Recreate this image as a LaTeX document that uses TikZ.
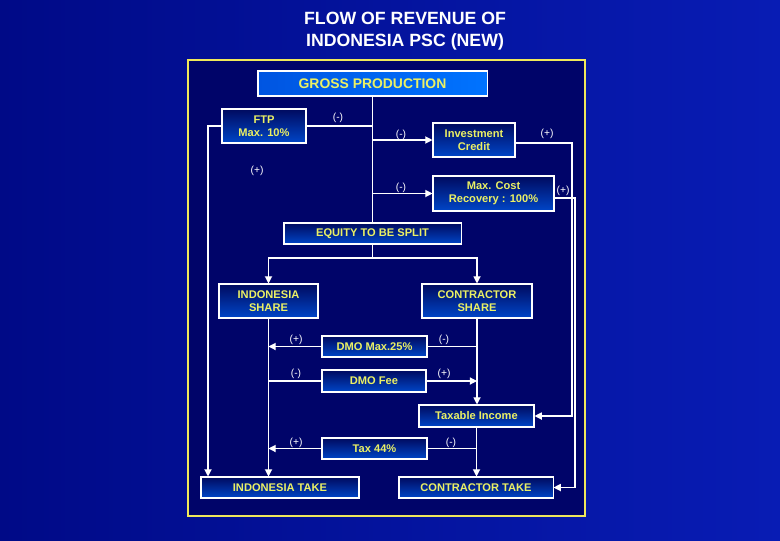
\documentclass[tikz,border=0pt]{standalone}
\usepackage{fontspec}
\setmainfont{Liberation Sans}
\usepackage{xcolor}
\usetikzlibrary{arrows.meta,positioning,calc}
\definecolor{slideblue}{RGB}{0,10,135}
\definecolor{slidelight}{RGB}{8,28,180}
\definecolor{framein}{RGB}{0,4,105}
\definecolor{frameyel}{RGB}{240,232,90}
\definecolor{boxdark}{RGB}{0,10,95}
\definecolor{boxlight}{RGB}{0,70,200}
\definecolor{grossleft}{RGB}{0,85,225}
\definecolor{grossright}{RGB}{0,115,255}
\definecolor{txtyel}{RGB}{235,240,100}

\begin{document}
\begin{tikzpicture}[
  x=0.025cm, y=-0.025cm,
  box/.style={draw=white, line width=0.75pt, rectangle, align=center, inner sep=1pt,
    top color=boxdark, bottom color=boxlight, text=txtyel,
    font=\fontsize{7.9}{9.2}\selectfont\bfseries},
  grossbox/.style={box, left color=grossleft, right color=grossright,
    font=\fontsize{9.9}{11}\selectfont\bfseries},
  sign/.style={text=white, font=\fontsize{7.3}{8}\selectfont, inner sep=0pt},
  >={Triangle[length=1.8mm,width=1.8mm]},
  wire/.style={draw=white, line width=0.8pt},
  arrline/.style={wire, ->},
]

% ============ slide background and frame ============
\shade[left color=slideblue, right color=slidelight] (0,0) rectangle (780,540);
\useasboundingbox (0,0) rectangle (780,540);
\draw[frameyel, line width=1.5pt, fill=framein] (188,60) rectangle (585,516);

% ============ title ============
\node[text=white, font=\fontsize{12.6}{15.5}\selectfont\bfseries, align=center] (title) at (405,31)
  {FLOW OF REVENUE OF\\ INDONESIA PSC (NEW)};

% ============ upper part ============
\node[grossbox, minimum width=5.725cm, minimum height=0.625cm] (gross) at (372.5,83.5) {GROSS PRODUCTION};
\node[box, minimum width=2.1cm, minimum height=0.85cm] (ftp) at (264,126) {FTP\\Max. 10\%};
\node[box, minimum width=2.05cm, minimum height=0.85cm] (invest) at (474,140) {Investment\\Credit};
\node[box, minimum width=3.025cm, minimum height=0.875cm] (maxcost) at (493.5,193.5) {Max. Cost\\Recovery : 100\%};
\node[box, minimum width=4.425cm, minimum height=0.525cm] (equity) at (372.5,233.5) {EQUITY TO BE SPLIT};

% ============ split ============
\node[box, minimum width=2.475cm, minimum height=0.85cm] (indshare) at (268.5,301) {INDONESIA\\SHARE};
\node[box, minimum width=2.75cm, minimum height=0.85cm] (conshare) at (477,301) {CONTRACTOR\\SHARE};
\node[box, minimum width=2.625cm, minimum height=0.525cm] (dmomax) at (374.5,346.5) {DMO Max.25\%};
\node[box, minimum width=2.6cm, minimum height=0.55cm] (dmofee) at (374,381) {DMO Fee};
\node[box, minimum width=2.875cm, minimum height=0.55cm] (taxinc) at (476.5,416) {Taxable Income};
\node[box, minimum width=2.625cm, minimum height=0.525cm] (tax) at (374.5,448.5) {Tax 44\%};
\node[box, minimum width=3.95cm, minimum height=0.525cm] (indtake) at (280,487.5) {INDONESIA TAKE};
\node[box, minimum width=3.85cm, minimum height=0.525cm] (contake) at (476,487.5) {CONTRACTOR TAKE};

% ============ helper coordinates ============
\coordinate (ftpleft) at (208,126);
\coordinate (invright) at (572,143);
\coordinate (mcout) at (554,198);
\coordinate (mcright) at (575,198);
\coordinate (splitmid) at (372.5,258);

% ===================== ARROWS =====================

% trunk from gross production
\draw[wire] (gross.south) -- (equity.north);
\draw[wire] (ftp.east) -- (gross.south |- ftp.east);
\draw[arrline] (gross.south |- invest.west) -- (invest.west);
\draw[arrline] (gross.south |- maxcost.west) -- (maxcost.west);

% FTP share goes down to the Indonesia take
\draw[arrline] (ftp.west) -- (ftpleft) -- (ftpleft |- indtake.north);

% investment credit and cost recovery back to the contractor
\draw[arrline] (invest.east |- invright) -- (invright) -- (invright |- taxinc.east) -- (taxinc.east);
\draw[arrline] (mcout) -- (mcright) -- (mcright |- contake.east) -- (contake.east);

% equity split
\draw[wire] (equity.south) -- (splitmid);
\draw[arrline] (splitmid) -| (indshare.north);
\draw[arrline] (splitmid) -| (conshare.north);

% main verticals
\draw[arrline] (indshare.south) -- (indshare.south |- indtake.north);
\draw[arrline] (conshare.south) -- (conshare.south |- taxinc.north);
\draw[arrline] (taxinc.south) -- (taxinc.south |- contake.north);

% DMO and tax
\draw[wire] (conshare.south |- dmomax.east) -- (dmomax.east);
\draw[arrline] (dmomax.west) -- (indshare.south |- dmomax.west);
\draw[wire] (indshare.south |- dmofee.west) -- (dmofee.west);
\draw[arrline] (dmofee.east) -- (conshare.south |- dmofee.east);
\draw[wire] (taxinc.south |- tax.east) -- (tax.east);
\draw[arrline] (tax.west) -- (indshare.south |- tax.west);

% ============ signs ============
\node[sign] (s1) at (338,118) {(-)};
\node[sign] (s2) at (401,135) {(-)};
\node[sign] (s3) at (401,188) {(-)};
\node[sign] (s4) at (547,134) {(+)};
\node[sign] (s5) at (563,191) {(+)};
\node[sign] (s6) at (257,171) {(+)};
\node[sign] (s7) at (296,340) {(+)};
\node[sign] (s8) at (444,340) {(-)};
\node[sign] (s9) at (296,374) {(-)};
\node[sign] (s10) at (444,374) {(+)};
\node[sign] (s11) at (296,443) {(+)};
\node[sign] (s12) at (451,443) {(-)};

\end{tikzpicture}
\end{document}
